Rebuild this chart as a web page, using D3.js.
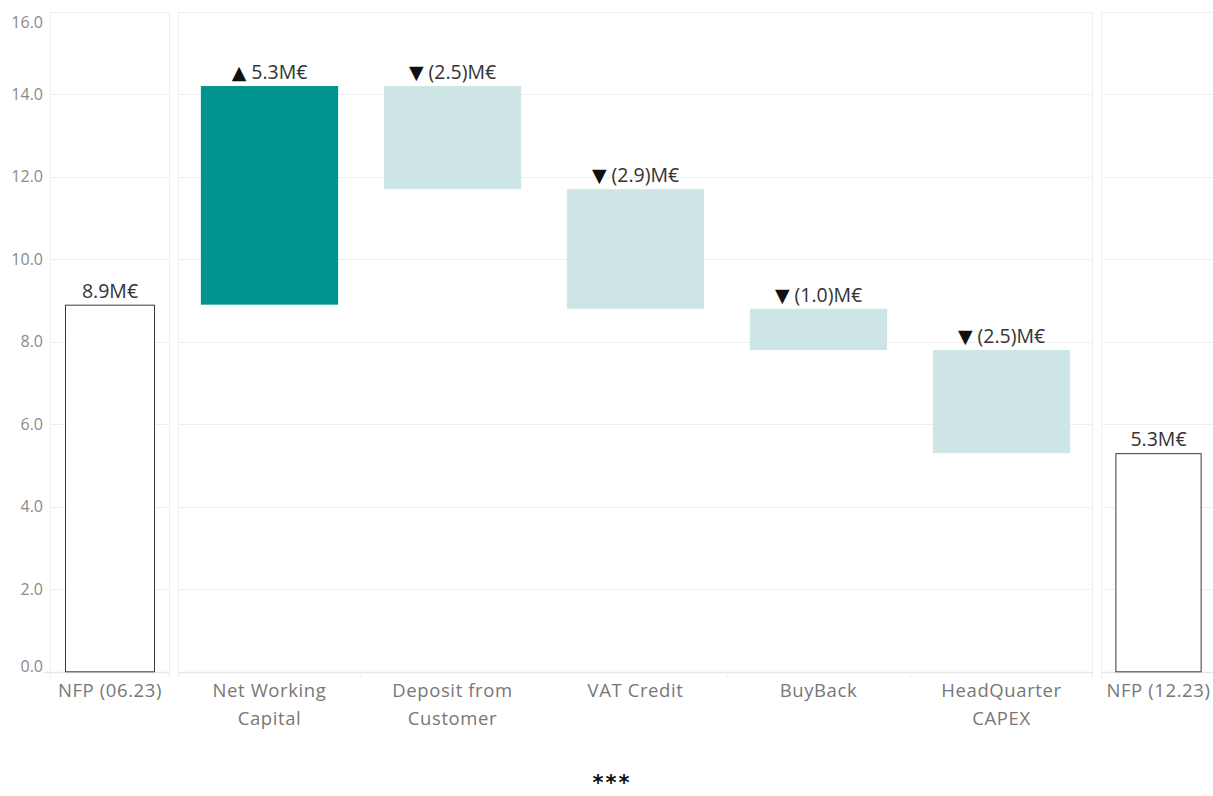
<!DOCTYPE html>
<html><head><meta charset="utf-8">
<script src="https://cdn.jsdelivr.net/npm/d3@7"></script>
<style>html,body{margin:0;padding:0;background:#fff;}svg{display:block;}</style>
</head><body>
<svg id="chart" width="1213" height="796"></svg>
<script>
// ---- data ----
const startCategory = "NFP (06.23)";
const startValue = 8.9;
const stepCategories = ["Net Working Capital", "Deposit from Customer", "VAT Credit", "BuyBack", "HeadQuarter CAPEX"];
const stepLabelLines = [["Net Working", "Capital"], ["Deposit from", "Customer"], ["VAT Credit"], ["BuyBack"], ["HeadQuarter", "CAPEX"]];
const stepDeltas = [5.3, -2.5, -2.9, -1.0, -2.5];
const endCategory = "NFP (12.23)";
const endValue = 5.3;
const yTicks = [0, 2, 4, 6, 8, 10, 12, 14, 16];

// ---- layout ----
const svg = d3.select("#chart");
const font = "'Open Sans', 'Noto Sans', sans-serif";
const y = d3.scaleLinear().domain([0, 16]).range([671.8, 11.8]);
const panels = [
  {x0: 50, x1: 170, cats: [startCategory]},
  {x0: 178, x1: 1093, cats: stepCategories},
  {x0: 1101, x1: 1216, cats: [endCategory]}
];
panels.forEach(p => {
  p.scale = d3.scaleBand().domain(p.cats).range([p.x0, p.x1]).paddingInner(0.25).paddingOuter(0.125);
});

const gridColor = "#efefef";
panels.forEach(p => {
  const g = svg.append("g");
  g.selectAll("line.grid").data(yTicks.filter(t => t > 0)).join("line")
    .attr("x1", p.x0).attr("x2", p.x1)
    .attr("y1", d => Math.round(y(d)) + 0.5).attr("y2", d => Math.round(y(d)) + 0.5)
    .attr("stroke", gridColor).attr("stroke-width", 1);
  g.append("line").attr("x1", p.x0 + 0.5).attr("x2", p.x0 + 0.5).attr("y1", y(16)).attr("y2", y(0) + 6)
    .attr("stroke", gridColor);
  if (p.x1 < 1210) g.append("line").attr("x1", p.x1 - 0.5).attr("x2", p.x1 - 0.5).attr("y1", y(16)).attr("y2", y(0) + 6)
    .attr("stroke", gridColor);
  g.append("line").attr("x1", p === panels[0] ? p.x0 - 6 : p.x0).attr("x2", p.x1)
    .attr("y1", Math.round(y(0)) + 0.5).attr("y2", Math.round(y(0)) + 0.5)
    .attr("stroke", "#e6e6e6").attr("stroke-width", 1.5);
  if (p.cats.length > 1) {
    const step = p.scale.step();
    g.selectAll("line.sep").data(p.cats.slice(1)).join("line")
      .attr("x1", d => p.scale(d) - step * 0.125).attr("x2", d => p.scale(d) - step * 0.125)
      .attr("y1", y(0)).attr("y2", y(0) + 6).attr("stroke", gridColor);
  }
});

// y axis
const yAxis = d3.axisLeft(y).tickValues(yTicks).tickFormat(d3.format(".1f")).tickSize(0).tickPadding(7);
const ya = svg.append("g").attr("transform", "translate(50,0)").call(yAxis);
ya.select(".domain").remove();
ya.selectAll("text").attr("fill", "#8a8a8a").style("font-family", font).style("font-size", "16px")
  .attr("dy", d => d === 16 ? "0.95em" : d === 0 ? "-0.05em" : "0.32em");

let running = startValue;
const steps = stepCategories.map((c, i) => {
  const from = running; running += stepDeltas[i];
  return {cat: c, from, to: running, delta: stepDeltas[i], lines: stepLabelLines[i]};
});

const valueLabel = (sel, v, withArrow) => {
  if (withArrow) {
    sel.append("tspan").style("font-family", "'DejaVu Sans', sans-serif").style("font-size", "19px")
      .attr("fill", "#111").text(v >= 0 ? "▲" : "▼");
    sel.append("tspan").attr("dx", 5).text(v >= 0 ? v.toFixed(1) + "M€" : "(" + Math.abs(v).toFixed(1) + ")M€");
  } else sel.text(v.toFixed(1) + "M€");
};
const labelStyle = sel => sel.attr("text-anchor", "middle").attr("fill", "#333")
  .style("font-family", font).style("font-size", "19.5px");
const catStyle = sel => sel.attr("text-anchor", "middle").attr("fill", "#777")
  .style("font-family", font).style("font-size", "18.5px").style("letter-spacing", "0.6px");

[[panels[0], startCategory, startValue], [panels[2], endCategory, endValue]].forEach(([p, c, v]) => {
  const x = p.scale(c), w = p.scale.bandwidth();
  svg.append("rect").attr("x", x + 0.5).attr("y", y(v) + 0.5).attr("width", w - 1).attr("height", y(0) - y(v) - 0.5)
    .attr("fill", "#fff").attr("stroke", "#3a3a3a").attr("stroke-width", 1);
  svg.append("text").attr("x", x + w / 2).attr("y", y(v) - 7).call(labelStyle).call(s => valueLabel(s, v, false));
  svg.append("text").attr("x", x + w / 2).attr("y", 697).call(catStyle).text(c);
});

const p = panels[1];
svg.selectAll("rect.step").data(steps).join("rect")
  .attr("x", d => p.scale(d.cat)).attr("width", p.scale.bandwidth())
  .attr("y", d => y(Math.max(d.from, d.to))).attr("height", d => Math.abs(y(d.from) - y(d.to)))
  .attr("fill", d => d.delta >= 0 ? "#009490" : "#cde6e5");
steps.forEach(d => {
  const cx = p.scale(d.cat) + p.scale.bandwidth() / 2;
  svg.append("text").attr("x", cx).attr("y", y(Math.max(d.from, d.to)) - 7).call(labelStyle)
    .call(s => valueLabel(s, d.delta, true));
  const t = svg.append("text").attr("x", cx).attr("y", 697).call(catStyle);
  d.lines.forEach((l, i) => t.append("tspan").attr("x", cx).attr("dy", i ? 28 : 0).text(l));
});

// footer
svg.append("text").attr("x", 612).attr("y", 790).attr("text-anchor", "middle").attr("fill", "#111")
  .style("font-family", "'DejaVu Sans', sans-serif").style("font-size", "21px").style("font-weight", "bold")
  .style("letter-spacing", "2px").text("***");
</script>
</body></html>
